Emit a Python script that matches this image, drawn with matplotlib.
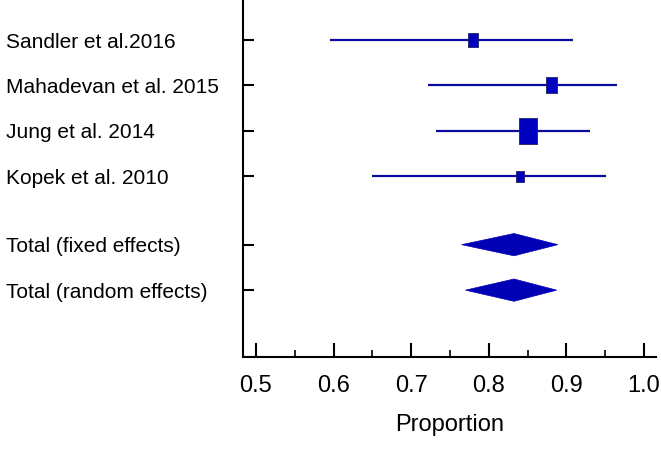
import matplotlib
matplotlib.use("Agg")
import matplotlib.pyplot as plt
from matplotlib.patches import Polygon
from matplotlib.ticker import MultipleLocator

# Study data
studies = ["Sandler et al.2016", "Mahadevan et al. 2015", "Jung et al. 2014", "Kopek et al. 2010"]
estimates = [0.780, 0.880, 0.850, 0.840]
ci_low = [0.595, 0.722, 0.732, 0.649]
ci_high = [0.908, 0.965, 0.930, 0.951]
# relative weights -> box size (width, height in px)
box_w = [10, 11, 18, 7.5]
box_h = [14, 15.5, 26, 11]

pooled = ["Total (fixed effects)", "Total (random effects)"]
pooled_est = [0.8325, 0.8325]
pooled_low = [0.765, 0.770]
pooled_high = [0.889, 0.8875]

study_rows = [0, 1, 2, 3]
pooled_rows = [4.5, 5.5]

plt.rcParams['font.family'] = ['Liberation Sans', 'DejaVu Sans']

fig = plt.figure(figsize=(6.61, 4.53), dpi=100)
ax = fig.add_axes([243 / 661, 1 - 357 / 453, (656 - 243) / 661, 357 / 453])

line_col = "#0a0a9c"
box_col = "#0000c0"

for i in range(len(studies)):
    y = study_rows[i]
    ax.plot([ci_low[i], ci_high[i]], [y, y], color=line_col, lw=1.6, solid_capstyle='butt', zorder=2)
    w, h = box_w[i], box_h[i]
    m = max(w, h)
    verts = [(-w / m, -h / m), (w / m, -h / m), (w / m, h / m), (-w / m, h / m), (-w / m, -h / m)]
    ax.plot(estimates[i], y, marker=verts, markersize=m * 0.72, color=box_col,
            markeredgecolor="#202060", markeredgewidth=0.6, zorder=3)

half_h = 0.245
for i in range(len(pooled)):
    y = pooled_rows[i]
    poly = Polygon([(pooled_low[i], y), (pooled_est[i], y - half_h),
                    (pooled_high[i], y), (pooled_est[i], y + half_h)],
                   closed=True, facecolor="#0000b4", edgecolor="#0000b4", lw=0.5)
    ax.add_patch(poly)

ax.set_xlim(0.4833, 1.0155)
ax.set_ylim(6.97, -0.88)

ax.set_yticks(study_rows + pooled_rows)
ax.set_yticklabels(studies + pooled, fontsize=15)
for lab in ax.get_yticklabels():
    lab.set_horizontalalignment('left')
ax.tick_params(axis='y', direction='in', length=8, width=1.5, pad=171)

ax.xaxis.set_major_locator(MultipleLocator(0.1))
ax.xaxis.set_minor_locator(MultipleLocator(0.05))
ax.set_xticks([0.5, 0.6, 0.7, 0.8, 0.9, 1.0])
ax.set_xticklabels(["0.5", "0.6", "0.7", "0.8", "0.9", "1.0"], fontsize=17)
ax.tick_params(axis='x', which='major', direction='in', length=10, width=1.5, pad=13)
ax.tick_params(axis='x', which='minor', direction='in', length=5, width=1.2)
ax.set_xlabel("Proportion", fontsize=17, labelpad=12)

for s in ['top', 'right']:
    ax.spines[s].set_visible(False)
for s in ['left', 'bottom']:
    ax.spines[s].set_linewidth(1.5)

fig.savefig("out.png", dpi=100)
